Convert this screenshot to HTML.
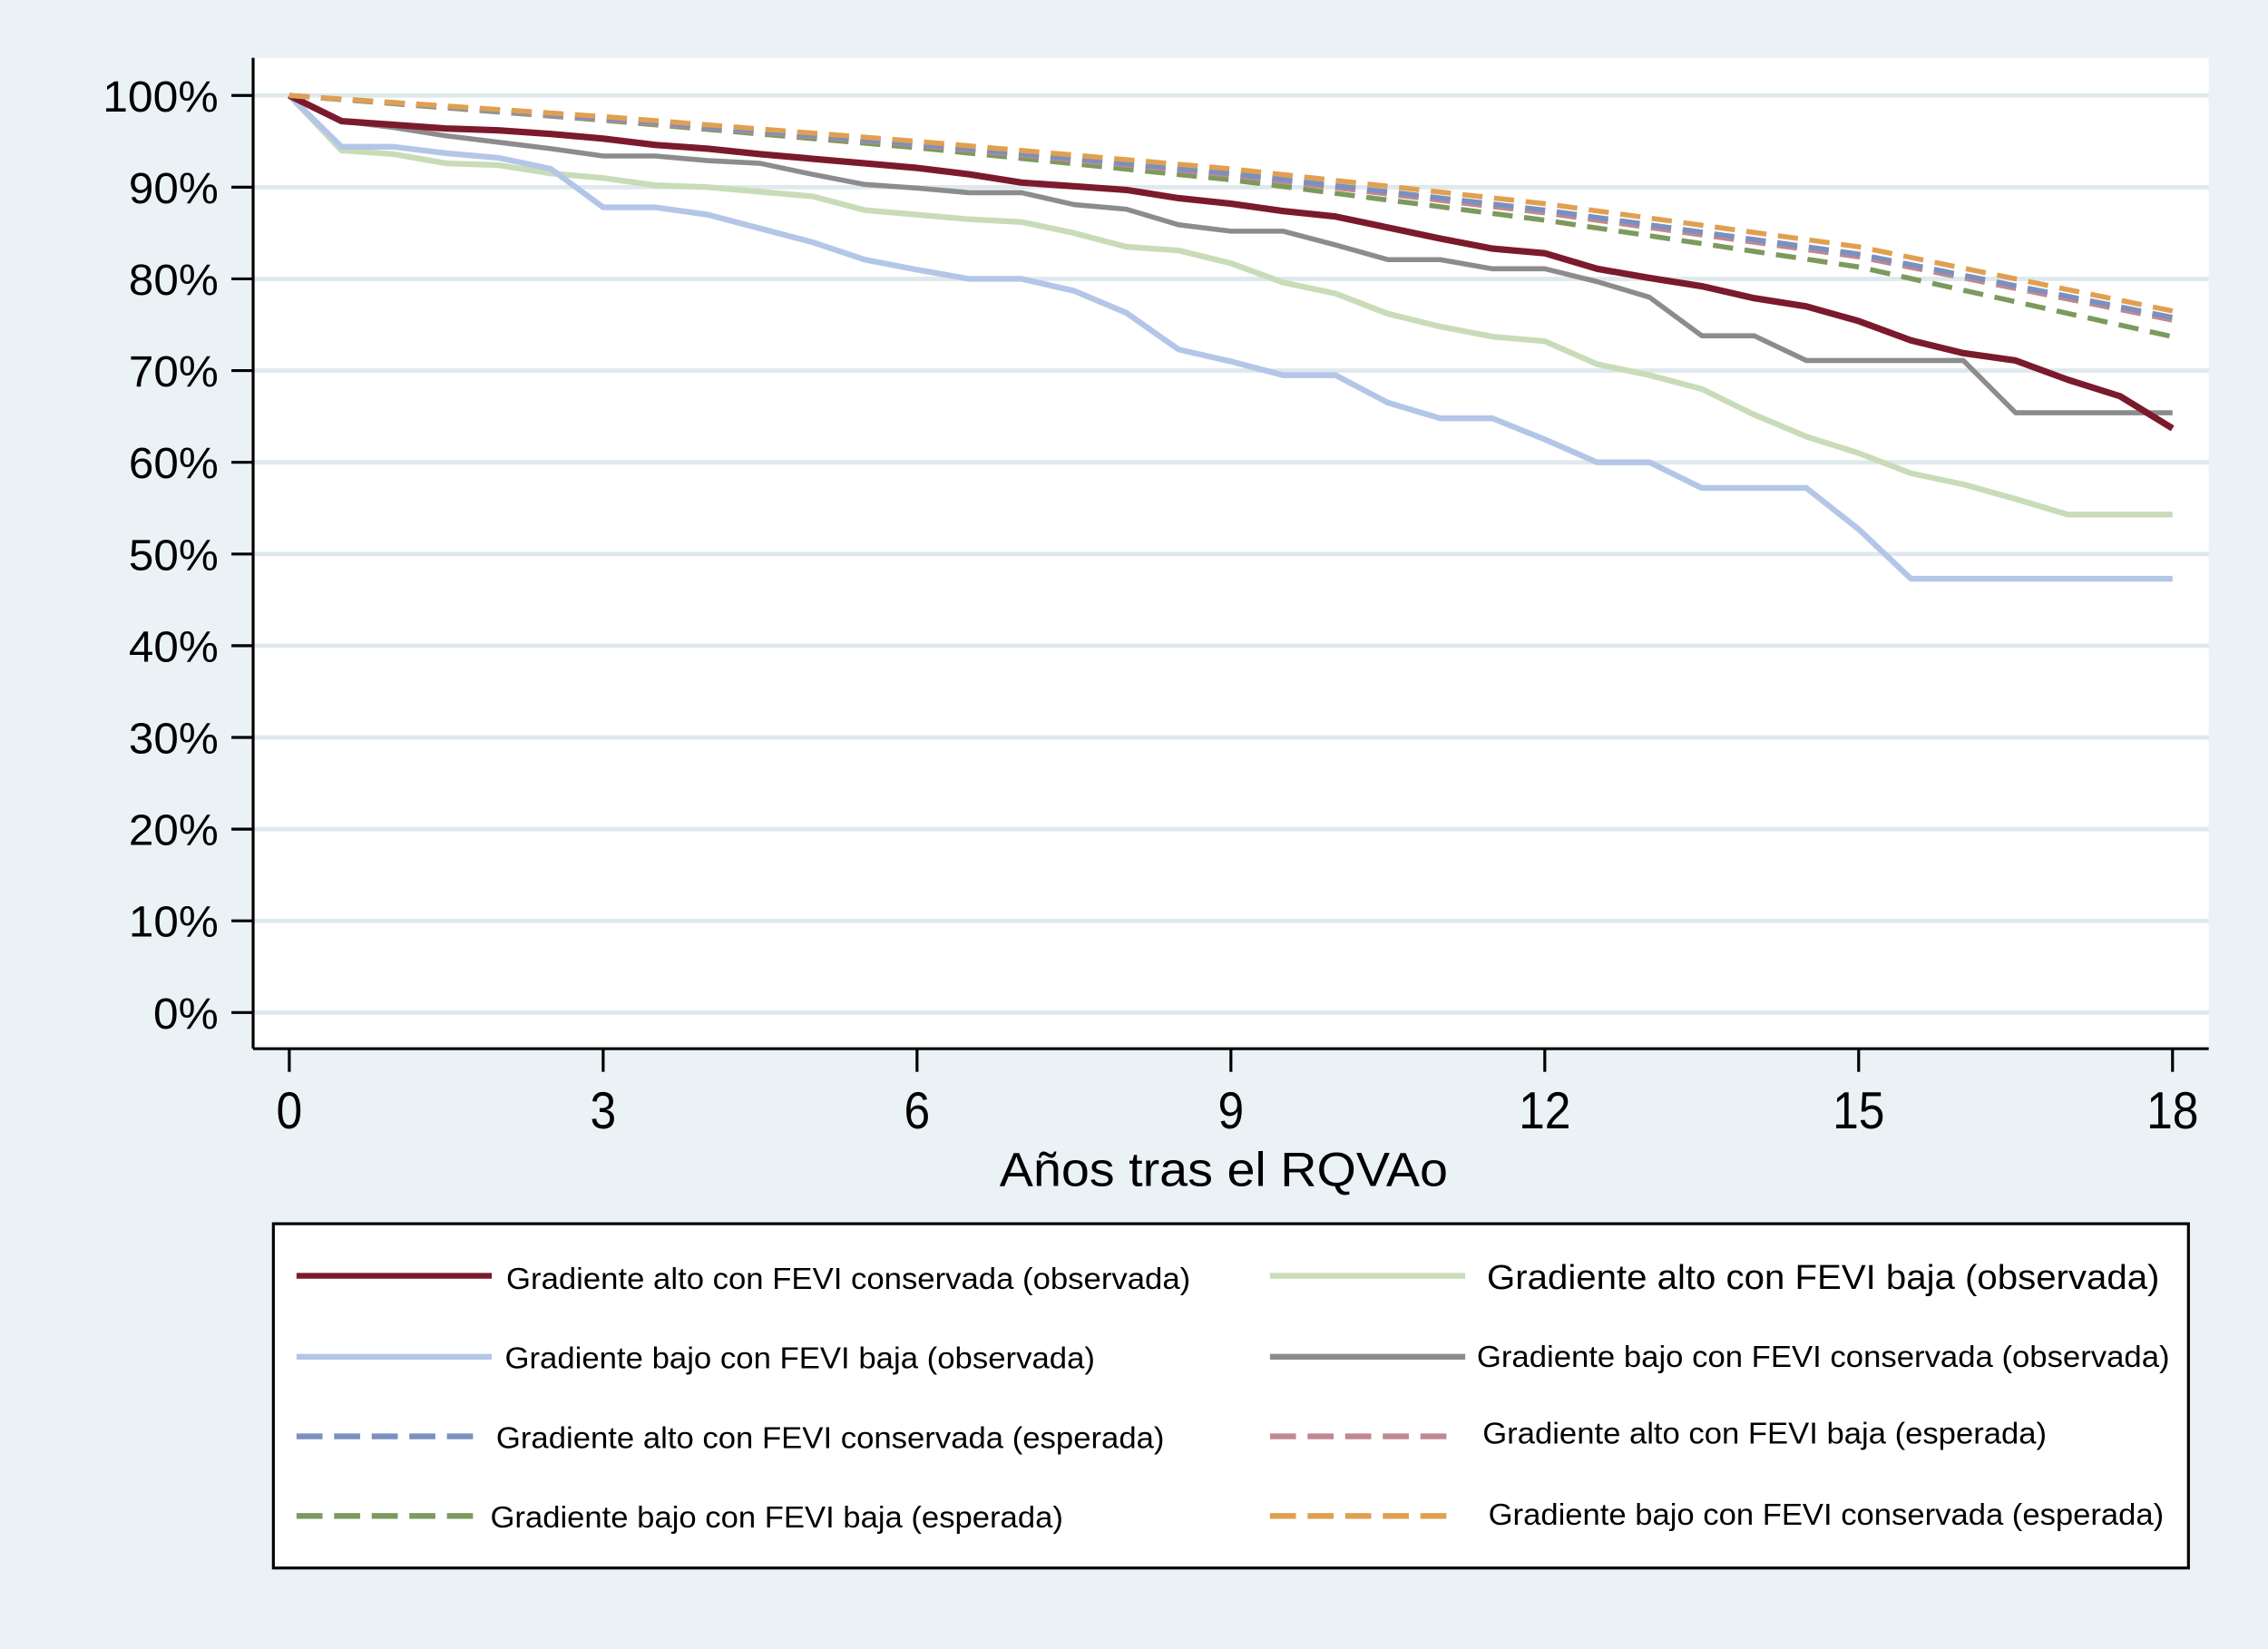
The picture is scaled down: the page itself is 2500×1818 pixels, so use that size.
<!DOCTYPE html>
<html><head><meta charset="utf-8"><style>
html,body{margin:0;padding:0;background:#eaf2f5;}
svg{display:block;}
text{font-family:"Liberation Sans",sans-serif;fill:#000;}
</style></head><body>
<svg id="chart" width="2500" height="1818" viewBox="0 0 1568 1140" preserveAspectRatio="none" xmlns="http://www.w3.org/2000/svg">
<rect x="0" y="0" width="1568" height="1140" fill="#eaf2f5"/>
<rect x="175" y="40" width="1352" height="685" fill="#ffffff"/>
<g id="grid"></g>
<g id="series"></g>
<line x1="175" y1="40" x2="175" y2="725" stroke="#000" stroke-width="2"/>
<line x1="175" y1="725" x2="1527" y2="725" stroke="#000" stroke-width="2"/>
<g id="yticks"></g>
<g id="xticks"></g>
<text x="846" y="820" text-anchor="middle" font-size="33" textLength="310" lengthAdjust="spacingAndGlyphs">Años tras el RQVAo</text>
<g>
<rect x="189" y="846" width="1324" height="238" fill="#fff" stroke="#000" stroke-width="2"/>
<g><line x1="205" y1="882" x2="340" y2="882" stroke="#7b1a2c" stroke-width="4"/><text x="350" y="891" font-size="21" textLength="473" lengthAdjust="spacingAndGlyphs">Gradiente alto con FEVI conservada (observada)</text></g>
<g><line x1="878" y1="882" x2="1013" y2="882" stroke="#c8dcb8" stroke-width="4"/><text x="1028" y="891" font-size="24" textLength="465" lengthAdjust="spacingAndGlyphs">Gradiente alto con FEVI baja (observada)</text></g>
<g><line x1="205" y1="938" x2="340" y2="938" stroke="#b4c6e8" stroke-width="4"/><text x="349" y="946" font-size="21" textLength="408" lengthAdjust="spacingAndGlyphs">Gradiente bajo con FEVI baja (observada)</text></g>
<g><line x1="878" y1="938" x2="1013" y2="938" stroke="#8c8c8c" stroke-width="4"/><text x="1021" y="945" font-size="21" textLength="479" lengthAdjust="spacingAndGlyphs">Gradiente bajo con FEVI conservada (observada)</text></g>
<g><line x1="205" y1="993" x2="332" y2="993" stroke="#7a90c0" stroke-width="4" stroke-dasharray="18,8"/><text x="343" y="1001" font-size="21" textLength="462" lengthAdjust="spacingAndGlyphs">Gradiente alto con FEVI conservada (esperada)</text></g>
<g><line x1="878" y1="993" x2="1005" y2="993" stroke="#c08890" stroke-width="4" stroke-dasharray="18,8"/><text x="1025" y="998" font-size="21" textLength="390" lengthAdjust="spacingAndGlyphs">Gradiente alto con FEVI baja (esperada)</text></g>
<g><line x1="205" y1="1048" x2="332" y2="1048" stroke="#7d9a5e" stroke-width="4" stroke-dasharray="18,8"/><text x="339" y="1056" font-size="21" textLength="396" lengthAdjust="spacingAndGlyphs">Gradiente bajo con FEVI baja (esperada)</text></g>
<g><line x1="878" y1="1048" x2="1005" y2="1048" stroke="#e0a050" stroke-width="4" stroke-dasharray="18,8"/><text x="1029" y="1054" font-size="21" textLength="467" lengthAdjust="spacingAndGlyphs">Gradiente bajo con FEVI conservada (esperada)</text></g>
</g>
</svg>
<script>
const years = [0,0.5,1,1.5,2,2.5,3,3.5,4,4.5,5,5.5,6,6.5,7,7.5,8,8.5,9,9.5,10,10.5,11,11.5,12,12.5,13,13.5,14,14.5,15,15.5,16,16.5,17,17.5,18];
const altoConsObs = [100,97.2,96.8,96.4,96.2,95.8,95.3,94.6,94.2,93.6,93.1,92.6,92.1,91.4,90.5,90.1,89.7,88.8,88.2,87.4,86.8,85.6,84.4,83.3,82.8,81.1,80.1,79.2,77.9,77,75.4,73.3,71.9,71.1,69,67.2,63.7];
const bajoConsObs = [100,97.2,96.5,95.6,94.9,94.2,93.4,93.4,92.9,92.6,91.4,90.3,89.9,89.4,89.4,88.1,87.6,85.9,85.2,85.2,83.7,82.1,82.1,81.1,81.1,79.7,78,73.8,73.8,71.1,71.1,71.1,71.1,65.4,65.4,65.4,65.4];
const altoBajaObs = [100,94,93.6,92.6,92.4,91.5,91,90.2,90,89.5,89,87.5,87,86.5,86.2,85,83.5,83.1,81.7,79.6,78.4,76.2,74.8,73.7,73.2,70.7,69.5,68,65.2,62.8,61,58.8,57.6,56,54.3,54.3,54.3];
const bajoBajaObs = [100,94.4,94.4,93.7,93.2,92,87.8,87.8,87,85.5,84,82.1,81,80,80,78.7,76.3,72.3,71,69.5,69.5,66.5,64.8,64.8,62.5,60,60,57.2,57.2,57.2,52.7,47.3,47.3,47.3,47.3,47.3,47.3];
const expYears = [0,3,6,9,12,15,18];
const bajoConsEsp = [100,97.7,95,92,88.2,83.5,76.5];
const altoConsEsp = [100,97.5,94.7,91.5,87.5,82.7,75.8];
const altoBajaEsp = [100,97.4,94.6,91.3,87.2,82.4,75.5];
const bajoBajaEsp = [100,97.3,94.3,90.8,86.4,81.3,73.7];
const yTickVals = [0,10,20,30,40,50,60,70,80,90,100];
const xTickVals = [0,3,6,9,12,15,18];

const NS = 'http://www.w3.org/2000/svg';
const X = v => 200 + (v/18)*1302;
const Y = v => 700 - (v/100)*634;
function mk(tag, attrs, parent){const e=document.createElementNS(NS,tag);for(const k in attrs)e.setAttribute(k,attrs[k]);parent.appendChild(e);return e;}

const grid=document.getElementById('grid'), yt=document.getElementById('yticks'), xt=document.getElementById('xticks'), ser=document.getElementById('series');
yTickVals.forEach(v=>{
  const g=mk('line',{x1:176,x2:1527,y1:Y(v),y2:Y(v),stroke:'#dfe9ed','stroke-width':3},grid);
  
  
  const t=mk('line',{x1:160,x2:175,y1:Y(v),y2:Y(v),stroke:'#000','stroke-width':2},yt);
  
  
  const l=mk('text',{x:151,y:Y(v)+11,'text-anchor':'end','font-size':30,textLength:v===100?80:(v===0?45:62),lengthAdjust:'spacingAndGlyphs'},yt);
  l.textContent=v+'%';
  
  
});
xTickVals.forEach(v=>{
  const t=mk('line',{x1:X(v),x2:X(v),y1:725,y2:741,stroke:'#000','stroke-width':2},xt);
  
  
  const l=mk('text',{x:X(v),y:780,'text-anchor':'middle','font-size':36,textLength:v>=10?36:18,lengthAdjust:'spacingAndGlyphs'},xt);
  l.textContent=v;
  
  
});
function line(xs, ys, color, w, dash, name){
  const p=mk('polyline',{points:xs.map((x,i)=>X(x)+','+Y(ys[i])).join(' '),fill:'none',stroke:color,'stroke-width':w,'stroke-linejoin':'round'},ser);
  if(dash)p.setAttribute('stroke-dasharray',dash);
  
  
}
line(years,altoBajaObs,'#c8dcb8',4,null,'line-alto-baja-obs');
line(years,bajoBajaObs,'#b4c6e8',4,null,'line-bajo-baja-obs');
line(years,bajoConsObs,'#8c8c8c',3.5,null,'line-bajo-conservada-obs');
line(years,altoConsObs,'#7b1a2c',4.5,null,'line-alto-conservada-obs');
line(expYears,bajoBajaEsp,'#7d9a5e',3.5,'14,8','line-bajo-baja-esp');
line(expYears,altoBajaEsp,'#c08890',3.5,'14,8','line-alto-baja-esp');
line(expYears,altoConsEsp,'#7a90c0',3.5,'14,8','line-alto-conservada-esp');
line(expYears,bajoConsEsp,'#e0a050',3.5,'14,8','line-bajo-conservada-esp');
</script>
</body></html>
